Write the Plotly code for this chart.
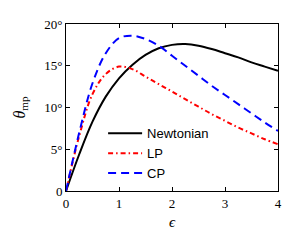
import plotly.graph_objects as go

eps = [0, 0.25, 0.5, 0.75, 1.0, 1.25, 1.5, 1.75, 2.0, 2.25, 2.5, 2.75, 3.0, 3.25, 3.5, 3.75, 4.0]
newtonian = [0, 4.4, 8.3, 11.3, 13.5, 15.1, 16.3, 17.1, 17.5, 17.6, 17.4, 17.0, 16.5, 16.0, 15.4, 14.9, 14.4]
lp = [0, 6.6, 11.6, 14.0, 14.9, 14.6, 13.7, 12.8, 11.9, 11.0, 10.1, 9.2, 8.4, 7.6, 6.9, 6.2, 5.6]
cp = [0, 7.0, 12.9, 16.5, 18.3, 18.6, 18.2, 17.4, 16.2, 15.0, 13.8, 12.6, 11.5, 10.4, 9.3, 8.2, 7.2]

x_ticks = [0, 1, 2, 3, 4]
x_ticktext = ["0", "1", "2", "3", "4"]
y_ticks = [0, 5, 10, 15, 20]
y_ticktext = ["0", "5°", "10°", "15°", "20°"]

fig = go.Figure()
fig.add_trace(go.Scatter(x=eps, y=newtonian, mode="lines", name="Newtonian",
                         line=dict(color="black", width=2, shape="spline")))
fig.add_trace(go.Scatter(x=eps, y=lp, mode="lines", name="LP",
                         line=dict(color="red", width=2, shape="spline", dash="5px,3px,1.5px,3px")))
fig.add_trace(go.Scatter(x=eps, y=cp, mode="lines", name="CP",
                         line=dict(color="blue", width=2, shape="spline", dash="8px,5px")))

serif = "Liberation Serif"
axis_common = dict(showline=True, linecolor="black", linewidth=1, mirror="ticks",
                   ticks="inside", ticklen=4, tickcolor="black", showgrid=False,
                   zeroline=False, automargin=False,
                   tickfont=dict(family=serif, size=13, color="black"))

fig.update_xaxes(range=[0, 4], tickvals=x_ticks, ticktext=x_ticktext,
                 title=dict(text="<i>ϵ</i>", font=dict(family=serif, size=15, color="black"), standoff=6),
                 **axis_common)
fig.update_yaxes(range=[0, 20], tickvals=y_ticks, ticktext=y_ticktext,
                 title=dict(text="<i>θ</i><sub>mp</sub>", font=dict(family=serif, size=16, color="black"), standoff=14),
                 **axis_common)

fig.update_layout(
    width=292, height=242,
    margin=dict(l=58, r=22, t=16, b=59),
    plot_bgcolor="white", paper_bgcolor="white",
    showlegend=True,
    legend=dict(x=0.175, y=0.435, xanchor="left", yanchor="top",
                bgcolor="rgba(0,0,0,0)", borderwidth=0,
                font=dict(family="Liberation Sans", size=13, color="black"),
                tracegroupgap=0, itemwidth=34),
)

fig.write_html("out.html")
